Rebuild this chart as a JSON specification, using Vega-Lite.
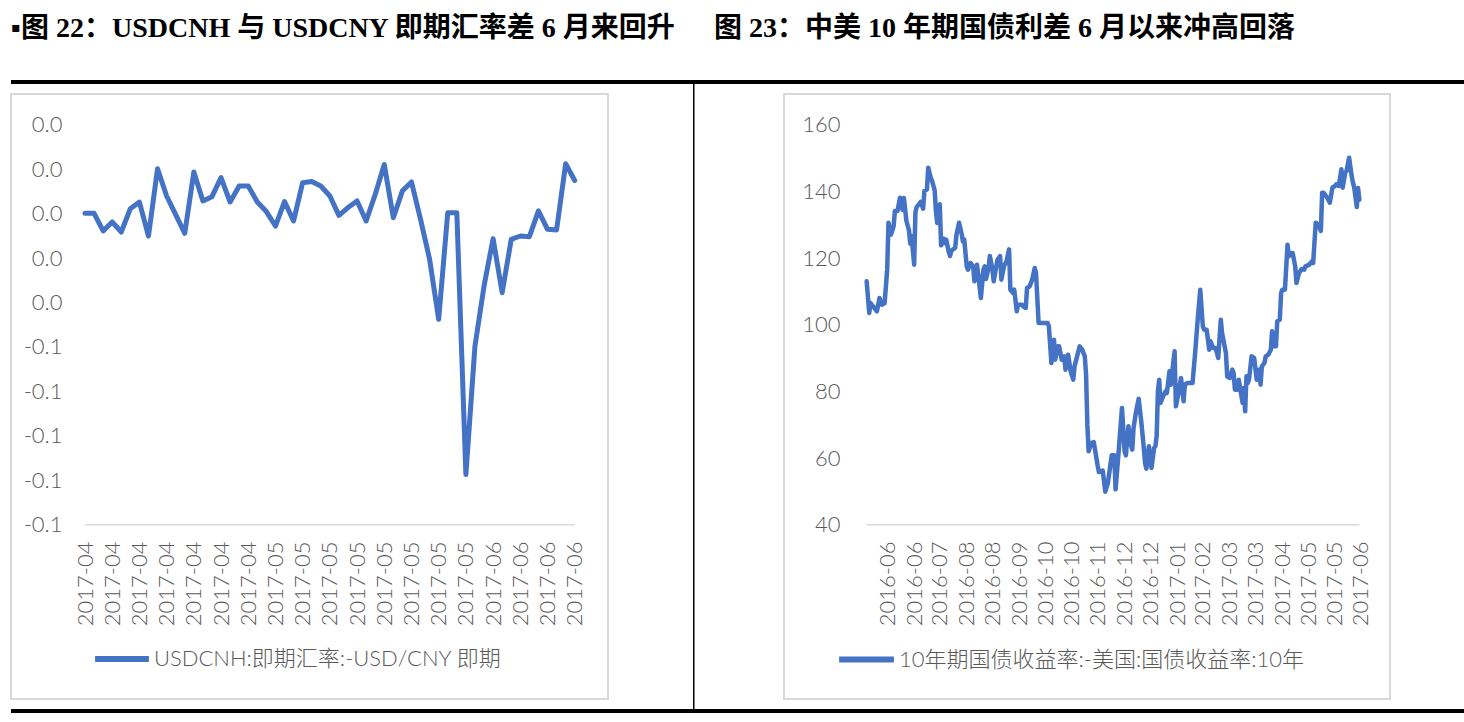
{
  "$schema": "https://vega.github.io/schema/vega-lite/v6.json",
  "background": "white",
  "padding": {"left": 10, "top": 15, "right": 0, "bottom": 0},
  "config": {"view": {"stroke": null}, "concat": {"spacing": 0}, "axis": {"labelOverlap": false}},
  "datasets": {
    "cnh": [
      {"day": 1, "date": "2017-04-03", "value": 0.0001}, {"day": 2, "date": "2017-04-04", "value": 0.0001}, {"day": 3, "date": "2017-04-05", "value": -0.0078},
      {"day": 4, "date": "2017-04-06", "value": -0.0038}, {"day": 5, "date": "2017-04-07", "value": -0.0083}, {"day": 6, "date": "2017-04-10", "value": 0.0022},
      {"day": 7, "date": "2017-04-11", "value": 0.0052}, {"day": 8, "date": "2017-04-12", "value": -0.0101}, {"day": 9, "date": "2017-04-13", "value": 0.0202},
      {"day": 10, "date": "2017-04-14", "value": 0.0079}, {"day": 11, "date": "2017-04-17", "value": -0.0005}, {"day": 12, "date": "2017-04-18", "value": -0.0089},
      {"day": 13, "date": "2017-04-19", "value": 0.0187}, {"day": 14, "date": "2017-04-20", "value": 0.0057}, {"day": 15, "date": "2017-04-21", "value": 0.0076},
      {"day": 16, "date": "2017-04-24", "value": 0.0162}, {"day": 17, "date": "2017-04-25", "value": 0.0052}, {"day": 18, "date": "2017-04-26", "value": 0.0124},
      {"day": 19, "date": "2017-04-27", "value": 0.0124}, {"day": 20, "date": "2017-04-28", "value": 0.0052}, {"day": 21, "date": "2017-05-01", "value": 0.0009},
      {"day": 22, "date": "2017-05-02", "value": -0.0056}, {"day": 23, "date": "2017-05-03", "value": 0.0054}, {"day": 24, "date": "2017-05-04", "value": -0.0033},
      {"day": 25, "date": "2017-05-05", "value": 0.0139}, {"day": 26, "date": "2017-05-08", "value": 0.0144}, {"day": 27, "date": "2017-05-09", "value": 0.0124},
      {"day": 28, "date": "2017-05-10", "value": 0.0079}, {"day": 29, "date": "2017-05-11", "value": -0.0008}, {"day": 30, "date": "2017-05-12", "value": 0.0027},
      {"day": 31, "date": "2017-05-15", "value": 0.0057}, {"day": 32, "date": "2017-05-16", "value": -0.0033}, {"day": 33, "date": "2017-05-17", "value": 0.0086},
      {"day": 34, "date": "2017-05-18", "value": 0.0221}, {"day": 35, "date": "2017-05-19", "value": -0.0019}, {"day": 36, "date": "2017-05-22", "value": 0.0102},
      {"day": 37, "date": "2017-05-23", "value": 0.0142}, {"day": 38, "date": "2017-05-24", "value": -0.0026}, {"day": 39, "date": "2017-05-25", "value": -0.0206},
      {"day": 40, "date": "2017-05-26", "value": -0.0476}, {"day": 41, "date": "2017-05-29", "value": 0.0004}, {"day": 42, "date": "2017-05-30", "value": 0.0004},
      {"day": 43, "date": "2017-05-31", "value": -0.1174}, {"day": 44, "date": "2017-06-01", "value": -0.0596}, {"day": 45, "date": "2017-06-02", "value": -0.0326},
      {"day": 46, "date": "2017-06-05", "value": -0.0113}, {"day": 47, "date": "2017-06-06", "value": -0.0356}, {"day": 48, "date": "2017-06-07", "value": -0.0116},
      {"day": 49, "date": "2017-06-08", "value": -0.0101}, {"day": 50, "date": "2017-06-09", "value": -0.0104}, {"day": 51, "date": "2017-06-12", "value": 0.0012},
      {"day": 52, "date": "2017-06-13", "value": -0.0071}, {"day": 53, "date": "2017-06-14", "value": -0.0074}, {"day": 54, "date": "2017-06-15", "value": 0.0224},
      {"day": 55, "date": "2017-06-16", "value": 0.0149}
    ],
    "spread": [
      {"date": "2016-05-23", "value": 113.0}, {"date": "2016-05-25", "value": 103.5}, {"date": "2016-05-26", "value": 106.5},
      {"date": "2016-05-28", "value": 105.5}, {"date": "2016-05-31", "value": 104.0}, {"date": "2016-06-02", "value": 108.0},
      {"date": "2016-06-04", "value": 106.0}, {"date": "2016-06-06", "value": 106.5}, {"date": "2016-06-08", "value": 116.5},
      {"date": "2016-06-09", "value": 130.6}, {"date": "2016-06-11", "value": 127.0}, {"date": "2016-06-13", "value": 129.6},
      {"date": "2016-06-14", "value": 134.1}, {"date": "2016-06-16", "value": 134.1}, {"date": "2016-06-18", "value": 138.1},
      {"date": "2016-06-20", "value": 134.4}, {"date": "2016-06-21", "value": 138.0}, {"date": "2016-06-23", "value": 131.1},
      {"date": "2016-06-25", "value": 128.3}, {"date": "2016-06-26", "value": 124.3}, {"date": "2016-06-27", "value": 126.6},
      {"date": "2016-06-29", "value": 118.0}, {"date": "2016-06-30", "value": 133.8}, {"date": "2016-07-01", "value": 135.3},
      {"date": "2016-07-04", "value": 136.8}, {"date": "2016-07-06", "value": 134.8}, {"date": "2016-07-07", "value": 140.1},
      {"date": "2016-07-09", "value": 140.6}, {"date": "2016-07-10", "value": 147.1}, {"date": "2016-07-12", "value": 144.0},
      {"date": "2016-07-13", "value": 143.1}, {"date": "2016-07-15", "value": 140.3}, {"date": "2016-07-16", "value": 134.0},
      {"date": "2016-07-17", "value": 130.5}, {"date": "2016-07-19", "value": 136.1}, {"date": "2016-07-20", "value": 123.8},
      {"date": "2016-07-22", "value": 125.8}, {"date": "2016-07-23", "value": 124.5}, {"date": "2016-07-24", "value": 125.5},
      {"date": "2016-07-26", "value": 121.8}, {"date": "2016-07-27", "value": 120.6}, {"date": "2016-07-28", "value": 122.2},
      {"date": "2016-07-31", "value": 123.1}, {"date": "2016-08-01", "value": 127.0}, {"date": "2016-08-03", "value": 130.6},
      {"date": "2016-08-05", "value": 127.3}, {"date": "2016-08-06", "value": 125.0}, {"date": "2016-08-07", "value": 125.6},
      {"date": "2016-08-09", "value": 117.5}, {"date": "2016-08-10", "value": 116.5}, {"date": "2016-08-12", "value": 118.5},
      {"date": "2016-08-14", "value": 117.5}, {"date": "2016-08-15", "value": 113.0}, {"date": "2016-08-17", "value": 118.0},
      {"date": "2016-08-18", "value": 115.0}, {"date": "2016-08-20", "value": 108.0}, {"date": "2016-08-22", "value": 116.5},
      {"date": "2016-08-23", "value": 117.5}, {"date": "2016-08-24", "value": 113.7}, {"date": "2016-08-26", "value": 117.0},
      {"date": "2016-08-27", "value": 120.6}, {"date": "2016-08-29", "value": 116.5}, {"date": "2016-08-30", "value": 113.0},
      {"date": "2016-09-01", "value": 117.5}, {"date": "2016-09-02", "value": 119.5}, {"date": "2016-09-04", "value": 120.6},
      {"date": "2016-09-05", "value": 113.5}, {"date": "2016-09-07", "value": 117.5}, {"date": "2016-09-09", "value": 119.0},
      {"date": "2016-09-11", "value": 122.6}, {"date": "2016-09-12", "value": 110.5}, {"date": "2016-09-14", "value": 109.5},
      {"date": "2016-09-15", "value": 110.5}, {"date": "2016-09-17", "value": 104.0}, {"date": "2016-09-18", "value": 106.0},
      {"date": "2016-09-21", "value": 106.0}, {"date": "2016-09-22", "value": 105.5}, {"date": "2016-09-24", "value": 105.0},
      {"date": "2016-09-25", "value": 111.0}, {"date": "2016-09-27", "value": 111.5}, {"date": "2016-09-29", "value": 113.5},
      {"date": "2016-10-01", "value": 117.0}, {"date": "2016-10-02", "value": 115.5}, {"date": "2016-10-04", "value": 100.5},
      {"date": "2016-10-07", "value": 100.5}, {"date": "2016-10-11", "value": 100.5}, {"date": "2016-10-12", "value": 99.5},
      {"date": "2016-10-14", "value": 88.5}, {"date": "2016-10-16", "value": 95.5}, {"date": "2016-10-17", "value": 89.5},
      {"date": "2016-10-19", "value": 93.5}, {"date": "2016-10-20", "value": 93.5}, {"date": "2016-10-22", "value": 89.5},
      {"date": "2016-10-24", "value": 90.5}, {"date": "2016-10-25", "value": 86.5}, {"date": "2016-10-27", "value": 91.0},
      {"date": "2016-10-29", "value": 86.0}, {"date": "2016-10-31", "value": 83.5}, {"date": "2016-11-01", "value": 87.5},
      {"date": "2016-11-03", "value": 90.5}, {"date": "2016-11-05", "value": 93.5}, {"date": "2016-11-07", "value": 92.5},
      {"date": "2016-11-09", "value": 90.5}, {"date": "2016-11-10", "value": 85.0}, {"date": "2016-11-11", "value": 70.0},
      {"date": "2016-11-12", "value": 62.0}, {"date": "2016-11-14", "value": 64.5}, {"date": "2016-11-16", "value": 64.8},
      {"date": "2016-11-19", "value": 57.8}, {"date": "2016-11-20", "value": 55.8}, {"date": "2016-11-23", "value": 56.2},
      {"date": "2016-11-25", "value": 49.9}, {"date": "2016-11-27", "value": 52.5}, {"date": "2016-11-30", "value": 60.8},
      {"date": "2016-12-02", "value": 60.8}, {"date": "2016-12-03", "value": 50.6}, {"date": "2016-12-05", "value": 60.0},
      {"date": "2016-12-08", "value": 75.0}, {"date": "2016-12-10", "value": 62.0}, {"date": "2016-12-11", "value": 60.8},
      {"date": "2016-12-13", "value": 69.5}, {"date": "2016-12-15", "value": 64.0}, {"date": "2016-12-16", "value": 62.5},
      {"date": "2016-12-17", "value": 69.0}, {"date": "2016-12-19", "value": 74.0}, {"date": "2016-12-21", "value": 77.8},
      {"date": "2016-12-23", "value": 71.0}, {"date": "2016-12-25", "value": 63.0}, {"date": "2016-12-26", "value": 58.5},
      {"date": "2016-12-27", "value": 56.8}, {"date": "2016-12-29", "value": 63.5}, {"date": "2016-12-31", "value": 57.0},
      {"date": "2017-01-02", "value": 63.0}, {"date": "2017-01-03", "value": 63.5}, {"date": "2017-01-04", "value": 66.5},
      {"date": "2017-01-05", "value": 80.0}, {"date": "2017-01-06", "value": 83.5}, {"date": "2017-01-07", "value": 76.5},
      {"date": "2017-01-09", "value": 78.5}, {"date": "2017-01-11", "value": 80.0}, {"date": "2017-01-12", "value": 79.5},
      {"date": "2017-01-14", "value": 86.0}, {"date": "2017-01-15", "value": 82.0}, {"date": "2017-01-18", "value": 92.0},
      {"date": "2017-01-19", "value": 75.5}, {"date": "2017-01-21", "value": 79.5}, {"date": "2017-01-23", "value": 84.0},
      {"date": "2017-01-25", "value": 77.0}, {"date": "2017-01-26", "value": 82.0}, {"date": "2017-01-28", "value": 82.5},
      {"date": "2017-01-30", "value": 82.5}, {"date": "2017-02-01", "value": 82.5}, {"date": "2017-02-03", "value": 91.5},
      {"date": "2017-02-05", "value": 101.5}, {"date": "2017-02-07", "value": 110.5}, {"date": "2017-02-09", "value": 99.5},
      {"date": "2017-02-10", "value": 98.5}, {"date": "2017-02-12", "value": 98.5}, {"date": "2017-02-14", "value": 92.5},
      {"date": "2017-02-15", "value": 95.0}, {"date": "2017-02-17", "value": 93.0}, {"date": "2017-02-19", "value": 93.0},
      {"date": "2017-02-21", "value": 90.0}, {"date": "2017-02-23", "value": 101.5}, {"date": "2017-02-24", "value": 97.5},
      {"date": "2017-02-25", "value": 95.5}, {"date": "2017-02-27", "value": 91.5}, {"date": "2017-02-28", "value": 84.5},
      {"date": "2017-03-02", "value": 84.0}, {"date": "2017-03-04", "value": 86.5}, {"date": "2017-03-05", "value": 85.5},
      {"date": "2017-03-06", "value": 80.5}, {"date": "2017-03-08", "value": 80.5}, {"date": "2017-03-09", "value": 83.5},
      {"date": "2017-03-12", "value": 76.5}, {"date": "2017-03-13", "value": 81.0}, {"date": "2017-03-14", "value": 74.0},
      {"date": "2017-03-15", "value": 84.5}, {"date": "2017-03-16", "value": 82.5}, {"date": "2017-03-17", "value": 83.5},
      {"date": "2017-03-19", "value": 90.5}, {"date": "2017-03-21", "value": 90.0}, {"date": "2017-03-23", "value": 83.5},
      {"date": "2017-03-25", "value": 86.5}, {"date": "2017-03-26", "value": 82.0}, {"date": "2017-03-27", "value": 87.5},
      {"date": "2017-03-29", "value": 88.5}, {"date": "2017-03-30", "value": 90.5}, {"date": "2017-04-01", "value": 91.0},
      {"date": "2017-04-03", "value": 92.5}, {"date": "2017-04-04", "value": 98.0}, {"date": "2017-04-06", "value": 93.5},
      {"date": "2017-04-07", "value": 93.5}, {"date": "2017-04-08", "value": 101.0}, {"date": "2017-04-10", "value": 101.5},
      {"date": "2017-04-11", "value": 109.5}, {"date": "2017-04-12", "value": 110.5}, {"date": "2017-04-14", "value": 110.5},
      {"date": "2017-04-16", "value": 124.0}, {"date": "2017-04-17", "value": 120.5}, {"date": "2017-04-18", "value": 121.5},
      {"date": "2017-04-20", "value": 121.5}, {"date": "2017-04-22", "value": 117.5}, {"date": "2017-04-23", "value": 112.5},
      {"date": "2017-04-25", "value": 115.5}, {"date": "2017-04-27", "value": 116.7}, {"date": "2017-04-29", "value": 116.5},
      {"date": "2017-04-30", "value": 117.5}, {"date": "2017-05-03", "value": 118.0}, {"date": "2017-05-05", "value": 119.0},
      {"date": "2017-05-06", "value": 118.5}, {"date": "2017-05-07", "value": 124.6}, {"date": "2017-05-08", "value": 130.6},
      {"date": "2017-05-10", "value": 130.1}, {"date": "2017-05-12", "value": 128.1}, {"date": "2017-05-13", "value": 139.6},
      {"date": "2017-05-14", "value": 139.6}, {"date": "2017-05-16", "value": 138.6}, {"date": "2017-05-17", "value": 138.1},
      {"date": "2017-05-19", "value": 136.6}, {"date": "2017-05-21", "value": 141.1}, {"date": "2017-05-23", "value": 141.6},
      {"date": "2017-05-24", "value": 142.1}, {"date": "2017-05-26", "value": 141.6}, {"date": "2017-05-28", "value": 146.6},
      {"date": "2017-05-29", "value": 141.1}, {"date": "2017-05-31", "value": 145.6}, {"date": "2017-06-01", "value": 146.1},
      {"date": "2017-06-02", "value": 148.1}, {"date": "2017-06-03", "value": 150.1}, {"date": "2017-06-05", "value": 144.6},
      {"date": "2017-06-06", "value": 142.6}, {"date": "2017-06-07", "value": 141.1}, {"date": "2017-06-09", "value": 135.3},
      {"date": "2017-06-10", "value": 141.0}, {"date": "2017-06-11", "value": 137.5}
    ]
  },
  "spacing": 0,
  "vconcat": [
    {
      "spacing": 0,
      "hconcat": [
        {
          "width": 682, "height": 4,
          "view": {"fill": "#000000", "stroke": null},
          "data": {"values": []},
          "mark": "point",
          "encoding": {},
          "title": {"text": "▪图 22：USDCNH 与 USDCNY 即期汇率差 6 月来回升", "anchor": "start", "offset": 37, "font": "Liberation Serif, Noto Sans CJK SC", "fontSize": 28, "fontWeight": "bold", "color": "#000000"}
        },
        {
          "width": 772, "height": 4,
          "view": {"fill": "#000000", "stroke": null},
          "data": {"values": []},
          "mark": "point",
          "encoding": {},
          "title": {"text": "图 23：中美 10 年期国债利差 6 月以来冲高回落", "anchor": "start", "dx": 21, "offset": 37, "font": "Liberation Serif, Noto Sans CJK SC", "fontSize": 28, "fontWeight": "bold", "color": "#000000"}
        }
      ]
    },
    {
      "spacing": 0,
      "center": true,
      "bounds": "flush",
      "resolve": {"scale": {"color": "independent"}, "legend": {"color": "independent"}},
      "hconcat": [
        {
          "width": 597, "height": 605,
          "view": {"stroke": "#d9d9d9", "strokeWidth": 2},
          "data": {"name": "cnh"},
          "layer": [
            {
              "mark": {"type": "line", "strokeWidth": 5, "strokeJoin": "round", "strokeCap": "round"},
              "encoding": {
                "x": {
                  "field": "day", "type": "quantitative",
                  "scale": {"domain": [-7.16, 58.67], "nice": false, "zero": false},
                  "axis": {
                    "title": null, "orient": "bottom", "offset": -174,
                    "values": [1, 4, 7, 10, 13, 16, 19, 22, 25, 28, 31, 34, 37, 40, 43, 46, 49, 52, 55],
                    "tickCount": 60,
                    "labelExpr": "datum.value <= 20 ? '2017-04' : datum.value <= 43 ? '2017-05' : '2017-06'",
                    "labelAngle": -90, "labelPadding": 16, "labelOverlap": false, "labelBound": false, "labelFlush": false,
                    "domain": false, "ticks": false, "grid": false,
                    "labelFont": "Lato", "labelFontSize": 22, "labelFontWeight": 300, "labelColor": "#595959"
                  }
                },
                "y": {
                  "field": "value", "type": "quantitative",
                  "scale": {"domain": [-0.2184, 0.0538], "nice": false, "zero": false},
                  "axis": {
                    "title": null, "offset": -51,
                    "values": [0.04, 0.02, 0, -0.02, -0.04, -0.06, -0.08, -0.1, -0.12, -0.14],
                    "tickCount": 30,
                    "labelExpr": "datum.value > -0.05 ? '0.0' : '-0.1'",
                    "labelPadding": 0, "labelOverlap": false, "labelBound": false, "labelFlush": false,
                    "domain": false, "ticks": false, "grid": false,
                    "labelFont": "Lato", "labelFontSize": 22, "labelFontWeight": 300, "labelColor": "#595959"
                  }
                },
                "color": {
                  "datum": "USDCNH:即期汇率:-USD/CNY 即期",
                  "scale": {"range": ["#4472C4"]},
                  "legend": {
                    "orient": "none", "legendX": 81, "legendY": 535, "title": null, "padding": 0,
                    "symbolType": "stroke", "symbolSize": 2900, "symbolStrokeWidth": 6,
                    "labelFont": "Lato, Noto Sans CJK SC", "labelFontSize": 22, "labelFontWeight": 300,
                    "labelColor": "#595959", "labelLimit": 800, "labelOffset": 2
                  }
                }
              }
            },
            {
              "mark": {"type": "line", "color": "#d9d9d9", "strokeWidth": 1.5},
              "encoding": {
                "x": {"field": "day", "type": "quantitative"},
                "y": {"datum": -0.14, "type": "quantitative"}
              }
            }
          ]
        },
        {"width": 85, "height": 625, "data": {"values": []}, "mark": "point", "encoding": {}},
        {"width": 1.5, "height": 625, "view": {"fill": "#000000", "stroke": null}, "data": {"values": []}, "mark": "point", "encoding": {}},
        {"width": 88.5, "height": 625, "data": {"values": []}, "mark": "point", "encoding": {}},
        {
          "width": 606, "height": 605,
          "view": {"stroke": "#d9d9d9", "strokeWidth": 2},
          "data": {"name": "spread"},
          "layer": [
            {
              "mark": {"type": "line", "strokeWidth": 4.5, "strokeJoin": "round", "strokeCap": "round"},
              "encoding": {
                "x": {
                  "field": "date", "type": "temporal",
                  "scale": {
                    "type": "utc", "nice": false,
                    "domain": [
                      {"year": 2016, "month": 3, "date": 19, "hours": 13, "minutes": 41, "utc": true},
                      {"year": 2017, "month": 7, "date": 4, "hours": 21, "minutes": 7, "utc": true}
                    ]
                  },
                  "axis": {
                    "title": null, "orient": "bottom", "offset": -174, "format": "%Y-%m",
                    "tickCount": 60,
                    "values": [
                      {"year": 2016, "month": 6, "date": 8, "utc": true},
                      {"year": 2016, "month": 6, "date": 29, "utc": true},
                      {"year": 2016, "month": 7, "date": 19, "utc": true},
                      {"year": 2016, "month": 8, "date": 9, "utc": true},
                      {"year": 2016, "month": 8, "date": 29, "utc": true},
                      {"year": 2016, "month": 9, "date": 19, "utc": true},
                      {"year": 2016, "month": 10, "date": 9, "utc": true},
                      {"year": 2016, "month": 10, "date": 30, "utc": true},
                      {"year": 2016, "month": 11, "date": 19, "utc": true},
                      {"year": 2016, "month": 12, "date": 10, "utc": true},
                      {"year": 2016, "month": 12, "date": 30, "utc": true},
                      {"year": 2017, "month": 1, "date": 20, "utc": true},
                      {"year": 2017, "month": 2, "date": 9, "utc": true},
                      {"year": 2017, "month": 3, "date": 2, "utc": true},
                      {"year": 2017, "month": 3, "date": 22, "utc": true},
                      {"year": 2017, "month": 4, "date": 12, "utc": true},
                      {"year": 2017, "month": 5, "date": 2, "utc": true},
                      {"year": 2017, "month": 5, "date": 23, "utc": true},
                      {"year": 2017, "month": 6, "date": 12, "utc": true}
                    ],
                    "labelAngle": -90, "labelPadding": 16, "labelOverlap": false, "labelBound": false, "labelFlush": false,
                    "domain": false, "ticks": false, "grid": false,
                    "labelFont": "Lato", "labelFontSize": 22, "labelFontWeight": 300, "labelColor": "#595959"
                  }
                },
                "y": {
                  "field": "value", "type": "quantitative",
                  "scale": {"domain": [-12.3, 169.2], "nice": false, "zero": false},
                  "axis": {
                    "title": null, "offset": -56,
                    "values": [40, 60, 80, 100, 120, 140, 160],
                    "tickCount": 30,
                    "labelPadding": 0, "labelOverlap": false, "labelBound": false, "labelFlush": false,
                    "domain": false, "ticks": false, "grid": false,
                    "labelFont": "Lato", "labelFontSize": 22, "labelFontWeight": 300, "labelColor": "#595959"
                  }
                },
                "color": {
                  "datum": "10年期国债收益率:-美国:国债收益率:10年",
                  "scale": {"range": ["#4472C4"]},
                  "legend": {
                    "orient": "none", "legendX": 52, "legendY": 535, "title": null, "padding": 0,
                    "symbolType": "stroke", "symbolSize": 3000, "symbolStrokeWidth": 6,
                    "labelFont": "Lato, Noto Sans CJK SC", "labelFontSize": 22, "labelFontWeight": 300,
                    "labelColor": "#595959", "labelLimit": 800, "labelOffset": 2
                  }
                }
              }
            },
            {
              "mark": {"type": "line", "color": "#d9d9d9", "strokeWidth": 1.5},
              "encoding": {
                "x": {"field": "date", "type": "temporal"},
                "y": {"datum": 40, "type": "quantitative"}
              }
            }
          ]
        }
      ]
    },
    {
      "width": 1454, "height": 4,
      "view": {"fill": "#000000", "stroke": null},
      "data": {"values": []},
      "mark": "point",
      "encoding": {}
    }
  ]
}
